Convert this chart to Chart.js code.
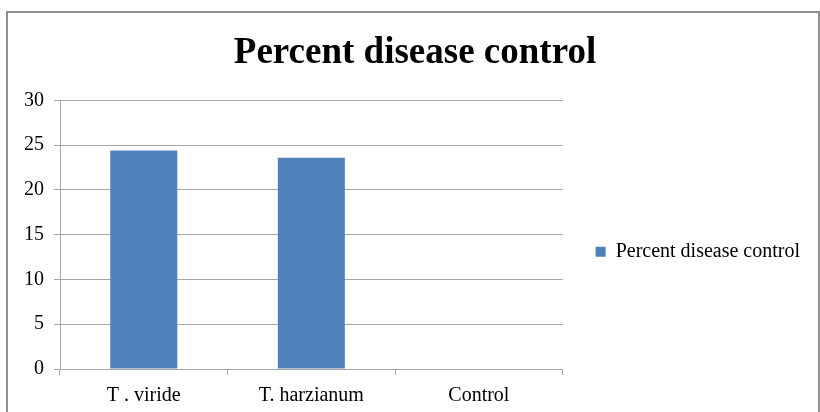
<!DOCTYPE html>
<html>
<head>
<meta charset="utf-8">
<script src="https://cdn.jsdelivr.net/npm/chart.js@4/dist/chart.umd.min.js"></script>
<style>
  body { margin: 0; background: #fff; }
  #frame { position: absolute; left: 6px; top: 11px; width: 810px; height: 420px; border: 2px solid #8e8e8e; }
  #wrap { position: absolute; left: 0; top: 0; width: 820px; height: 412px; }
</style>
</head>
<body>
<div id="frame"></div>
<div id="wrap"><canvas id="chart"></canvas></div>
<script>
const categories = ['T . viride', 'T. harzianum', 'Control'];
const seriesName = 'Percent disease control';
const seriesValues = [24.4, 23.6, 0];
const yTicks = [0, 5, 10, 15, 20, 25, 30];

const gridGray = '#a6a6a6';
const serif = '"Liberation Serif", "Times New Roman", serif';

const ctx = document.getElementById('chart').getContext('2d');
new Chart(ctx, {
  type: 'bar',
  data: {
    labels: categories,
    datasets: [{
      label: seriesName,
      data: seriesValues,
      backgroundColor: '#4f81bd',
      borderWidth: 0,
      categoryPercentage: 1,
      barPercentage: 0.4,
    }]
  },
  options: {
    responsive: true,
    maintainAspectRatio: false,
    animation: false,
    layout: { padding: { left: 20, right: 10, top: 0, bottom: 0 } },
    plugins: {
      title: {
        display: true,
        text: seriesName,
        color: '#000',
        font: { family: serif, size: 37, weight: 'bold' },
        padding: { top: 31, bottom: 25 },
      },
      legend: {
        display: true,
        position: 'right',
        fullSize: false,
        maxWidth: 260,
        // blank legend title only pushes the entry down a little
        title: { display: true, text: ' ', font: { family: serif, size: 20 }, padding: 5 },
        labels: {
          color: '#000',
          font: { family: serif, size: 20 },
          boxWidth: 10,
          boxHeight: 10,
          padding: 33,
        },
      },
      tooltip: { enabled: false },
    },
    scales: {
      x: {
        afterFit: (scale) => { scale.height = 43; },
        grid: { display: true, drawOnChartArea: false, drawTicks: true, tickLength: 6, color: gridGray, offset: true },
        border: { display: true, color: gridGray, width: 1 },
        ticks: { color: '#000', font: { family: serif, size: 20 }, padding: 9, maxRotation: 0 },
      },
      y: {
        min: 0,
        max: 30,
        afterBuildTicks: (scale) => { scale.ticks = yTicks.map(v => ({ value: v })); },
        afterFit: (scale) => { scale.width = 40; },
        grid: { color: gridGray, lineWidth: 1, tickLength: 6 },
        border: { display: true, color: gridGray, width: 1 },
        ticks: { color: '#000', font: { family: serif, size: 20 }, padding: 10 },
      }
    }
  }
});
</script>
</body>
</html>
